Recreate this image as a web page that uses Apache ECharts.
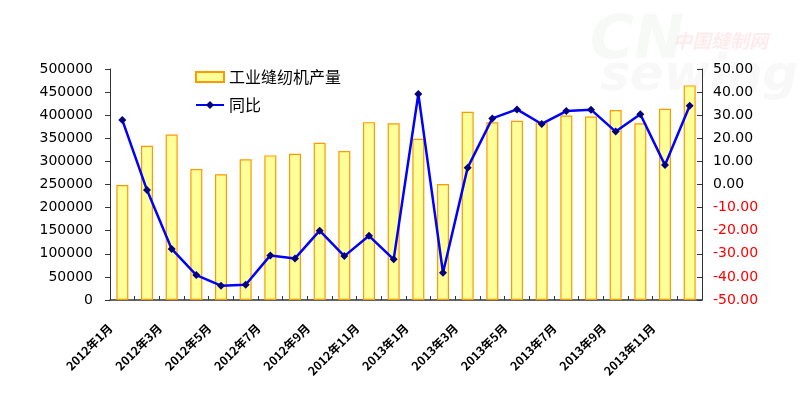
<!DOCTYPE html>
<html>
<head>
<meta charset="utf-8">
<script src="https://cdn.jsdelivr.net/npm/echarts@6/dist/echarts.min.js"></script>
<style>html,body{margin:0;padding:0;background:#fff}#c{width:800px;height:395px}</style>
</head>
<body>
<div id="c"></div>
<script>
var categories = ['2012年1月','2012年2月','2012年3月','2012年4月','2012年5月','2012年6月','2012年7月','2012年8月','2012年9月','2012年10月','2012年11月','2012年12月',
  '2013年1月','2013年2月','2013年3月','2013年4月','2013年5月','2013年6月','2013年7月','2013年8月','2013年9月','2013年10月','2013年11月','2013年12月'];
var production = [249000,334000,358000,283500,272000,304500,313000,316500,340500,322500,385000,382500,
  349000,251000,407500,384500,388000,385000,399500,397000,411000,382500,414000,464500];
var yoy = [27.9,-2.4,-27.9,-39.2,-43.8,-43.4,-30.7,-32.0,-20.0,-31.0,-22.2,-32.4,
  39.2,-38.2,7.3,28.6,32.5,26.2,31.8,32.4,22.9,30.4,8.4,34.1];
var seriesNames = ['工业缝纫机产量','同比'];

var chart = echarts.init(document.getElementById('c'));
chart.setOption({
  animation:false,
  backgroundColor:'#fff',
  grid:{left:110,right:98,top:69,bottom:95},
  legend:{
    orient:'vertical', left:190, top:64, itemWidth:28, itemHeight:10, itemGap:12,
    textStyle:{fontFamily:'Noto Sans CJK SC', fontSize:16, color:'#000'},
    data:[{name:seriesNames[0], icon:'rect'},{name:seriesNames[1]}]
  },
  graphic:[
    {type:'text', left:673, top:31, style:{text:'中国缝制网', font:'italic bold 19px "Noto Sans CJK SC"', fill:'rgba(255,60,60,0.10)'}},
    {type:'text', left:590, top:12, style:{text:'CN', font:'italic bold 60px "DejaVu Sans"', fill:'rgba(190,205,190,0.12)'}},
    {type:'text', left:600, top:52, style:{text:'sewing', font:'italic bold 50px "DejaVu Sans"', fill:'rgba(190,200,190,0.12)'}}
  ],
  xAxis:{
    type:'category', data:categories, boundaryGap:true,
    axisLine:{lineStyle:{color:'#333', width:1.5}},
    axisTick:{show:true, inside:true, length:4, alignWithLabel:false, interval:0, lineStyle:{color:'#333'}},
    axisLabel:{interval:1, rotate:45, margin:14, padding:[0,17,0,0], fontFamily:'Noto Sans CJK SC', fontWeight:'bold', fontSize:12, color:'#000'}
  },
  yAxis:[
    {type:'value', min:0, max:500000, interval:50000,
     axisLine:{show:true, lineStyle:{color:'#333'}},
     axisTick:{show:true, length:5, lineStyle:{color:'#333'}},
     splitLine:{show:false},
     axisLabel:{margin:17, fontFamily:'DejaVu Sans', fontSize:14, color:'#000',
       formatter:function(v){return String(v);}}},
    {type:'value', min:-50, max:50, interval:10, position:'right',
     axisLine:{show:true, lineStyle:{color:'#333'}},
     axisTick:{show:true, inside:true, length:5, lineStyle:{color:'#333'}},
     splitLine:{show:false},
     axisLabel:{margin:11, fontFamily:'DejaVu Sans', fontSize:14,
       formatter:function(v){return v.toFixed(2);},
       color:function(v){return Number(v)<0?'#FF0000':'#000';}}}
  ],
  series:[
    {name:seriesNames[0], type:'bar', data:production, barWidth:12, yAxisIndex:0,
     itemStyle:{color:'#FFFF99', borderColor:'#FF9900', borderWidth:1.2}},
    {name:seriesNames[1], type:'line', data:yoy, yAxisIndex:1, symbol:'diamond', symbolSize:8,
     lineStyle:{color:'#0000FF', width:2.5}, itemStyle:{color:'#000080'}}
  ]
});
</script>
</body>
</html>
